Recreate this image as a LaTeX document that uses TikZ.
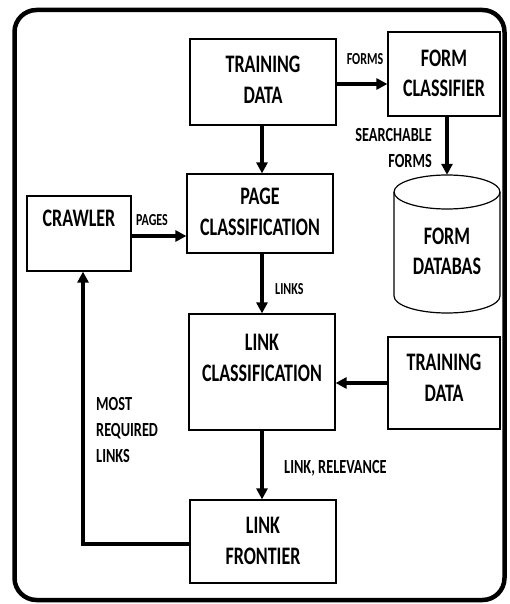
\documentclass[tikz,border=0pt]{standalone}
\usepackage{fontspec}
\setmainfont{Carlito}
\usetikzlibrary{arrows.meta,calc}
\newcommand\stretchtxt[2][c]{\scalebox{1}[1.4]{\begin{tabular}{@{}#1@{}}#2\end{tabular}}}
\tikzset{
  box/.style={draw, line width=1.2pt, minimum width=#1, inner sep=0pt},
  bigtxt/.style={inner sep=0pt, font=\bfseries\fontsize{18}{21.5}\selectfont},
  smalltxt/.style={inner sep=0pt, font=\bfseries\fontsize{12}{18.5}\selectfont},
  midtxt/.style={inner sep=0pt, font=\bfseries\fontsize{14.3}{18.5}\selectfont},
  flow/.style={line width=3.2pt, -{Triangle[length=11pt,width=11pt]}},
}
\begin{document}
\begin{tikzpicture}[x=1pt,y=-1pt]
\useasboundingbox (0,0) rectangle (509,604);
% outer frame
\draw[line width=4.5pt, rounded corners=22pt] (14.5,10) rectangle (504.5,600);
% boxes
\node[box=146pt, minimum height=86pt] (td) at (263,82) {};
\node[box=112pt, minimum height=84pt] (fc) at (444,74) {};
\node[box=146pt, minimum height=79pt] (pc) at (260,213.5) {};
\node[box=104pt, minimum height=75pt] (cr) at (79,233.5) {};
\node[box=146pt, minimum height=116pt] (lc) at (262,372) {};
\node[box=112pt, minimum height=92pt] (td2) at (444,383) {};
\node[box=146pt, minimum height=83pt] (lf) at (263,541.5) {};
% database cylinder
\node[minimum width=106pt, minimum height=138pt, inner sep=0pt] (db) at (447,244) {};
\draw[line width=1.2pt, fill=white]
  (394,192) -- (394,296) arc[start angle=180, end angle=0, x radius=53, y radius=17]
  -- (500,192);
\draw[line width=1.2pt] (447,192) ellipse[x radius=53, y radius=17];
% texts
\node[bigtxt] (tdt) at (263,82) {\stretchtxt{TRAINING\\DATA}};
\node[bigtxt] (fct) at (444,75.5) {\stretchtxt{FORM\\CLASSIFIER}};
\node[bigtxt] (pct) at (260,214) {\stretchtxt{PAGE\\CLASSIFICATION}};
\node[bigtxt] (crt) at (79,220) {\stretchtxt{CRAWLER}};
\node[bigtxt] (lct) at (262,360) {\stretchtxt{LINK\\CLASSIFICATION}};
\node[bigtxt] (td2t) at (444,380) {\stretchtxt{TRAINING\\DATA}};
\node[bigtxt] (lft) at (263,543) {\stretchtxt{LINK\\FRONTIER}};
\node[bigtxt] (dbt) at (447,253.5) {\stretchtxt{FORM\\DATABAS}};
% labels
\node[smalltxt] (lforms) at (365,59) {\stretchtxt{FORMS}};
\node[midtxt, anchor=east] (lsearch) at (432,149.5) {\stretchtxt[r]{SEARCHABLE\\FORMS}};
\node[smalltxt] (lpages) at (152,220) {\stretchtxt{PAGES}};
\node[smalltxt, anchor=west] (llinks) at (275,289) {\stretchtxt{LINKS}};
\node[midtxt, anchor=west] (lrel) at (284,468) {\stretchtxt{LINK, RELEVANCE}};
\node[midtxt, anchor=west] (lmost) at (96,431) {\stretchtxt[l]{MOST\\REQUIRED\\LINKS}};
% connectors
\draw[flow] (td.east |- 0,84) -- (fc.west |- 0,84);
\draw[flow] (fc.south -| 447,0) -- (db.north);
\draw[flow] (td.south -| 262,0) -- (pc.north -| 262,0);
\draw[flow] (cr.east |- 0,236) -- (pc.west |- 0,236);
\draw[flow] (pc.south -| 262,0) -- (lc.north);
\draw[flow] (td2.west) -- (lc.east |- td2.west);
\draw[flow] (lc.south) -- (lf.north -| lc.south);
\draw[flow] (lf.west |- 0,544) -| ([xshift=4pt]cr.south);
\end{tikzpicture}
\end{document}
